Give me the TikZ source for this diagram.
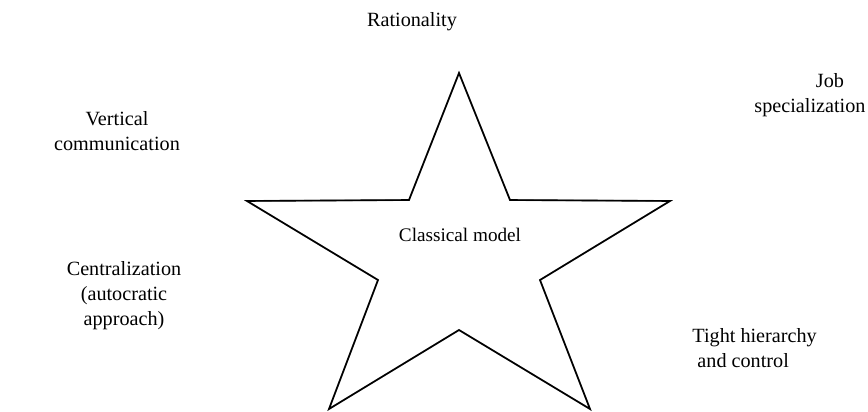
\documentclass[tikz,border=0pt]{standalone}
\usepackage{fontspec}
\setmainfont{Liberation Serif}
\begin{document}
\begin{tikzpicture}[x=0.5pt,y=-0.5pt,
  lbl/.style={inner sep=0pt,font=\fontsize{10.1}{12.5}\selectfont},
  starline/.style={line width=0.8pt,line join=miter},
  starshadow/.style={line width=0.9pt,draw=black!40,line join=miter}]
\useasboundingbox (0,0) rectangle (868,412);
% star outer/inner points
\coordinate (t) at (459,73);
\coordinate (i1) at (510,200);
\coordinate (r) at (670,201);
\coordinate (i2) at (540,280);
\coordinate (br) at (590,409);
\coordinate (i3) at (459,330);
\coordinate (bl) at (329,409);
\coordinate (i4) at (378,280);
\coordinate (l) at (247,201);
\coordinate (i5) at (409,200);
\draw[starshadow,shift={(1.8,2.5)}] (t) -- (i1) -- (r) -- (i2) -- (br) -- (i3) -- (bl) -- (i4) -- (l) -- (i5) -- cycle;
\draw[starline] (t) -- (i1) -- (r) -- (i2) -- (br) -- (i3) -- (bl) -- (i4) -- (l) -- (i5) -- cycle;
\node[lbl] (rat) at (412,22) {Rationality};
\node[lbl,align=center] (job) at (810,95) {\hspace*{20pt}Job\\specialization};
\node[lbl,align=center] (vc) at (117,131) {Vertical\\communication};
\node[lbl,font=\fontsize{9.6}{11}\selectfont] (cm) at (460,235) {Classical model};
\node[lbl,align=center] (cen) at (124,296) {Centralization\\(autocratic\\approach)};
\node[lbl,align=left,anchor=west] (thc) at (692,348) {Tight hierarchy\\\ and control};
\end{tikzpicture}
\end{document}
